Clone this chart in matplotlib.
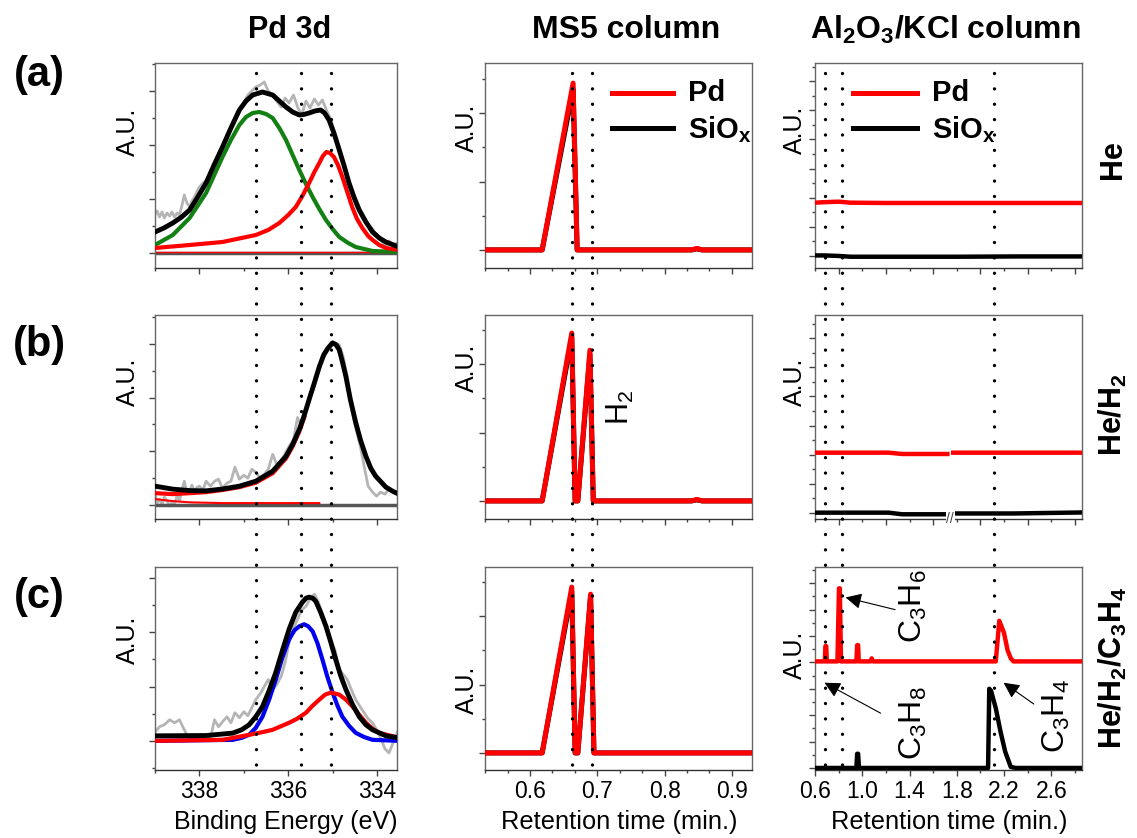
import numpy as np
import matplotlib
matplotlib.use("Agg")
import matplotlib.pyplot as plt
from matplotlib.lines import Line2D
from matplotlib.transforms import blended_transform_factory
from matplotlib.ticker import MultipleLocator, AutoMinorLocator

plt.rcParams['font.family'] = ['Liberation Sans', 'DejaVu Sans']
plt.rcParams['mathtext.fontset'] = 'custom'
plt.rcParams['mathtext.rm'] = 'Liberation Sans'
plt.rcParams['mathtext.bf'] = 'Liberation Sans:bold'
plt.rcParams['mathtext.it'] = 'Liberation Sans:italic'
plt.rcParams['mathtext.default'] = 'rm'

# ---------------- data: Pd 3d XPS ----------------
xps_ticks = [338, 336, 334]
xps_marks = [336.72, 335.71, 335.03]

a_raw_x = [339.01, 338.95, 338.90, 338.84, 338.79, 338.73, 338.67, 338.62, 338.56, 338.50, 338.45, 338.39,
           338.34, 338.28, 338.22, 338.17, 338.11, 338.05, 338.0, 337.92, 337.85, 337.75, 337.66, 337.57,
           337.48, 337.38, 337.29, 337.20, 337.10, 337.00, 336.91, 336.82, 336.73, 336.63, 336.54, 336.45,
           336.35, 336.26, 336.16, 336.07, 335.98, 335.88, 335.79, 335.70, 335.60, 335.51, 335.41, 335.32,
           335.23, 335.13, 335.04, 334.95, 334.85, 334.76, 334.67, 334.57, 334.48, 334.38, 334.29, 334.20,
           334.10, 334.01, 333.92, 333.82, 333.73, 333.63, 333.51]
a_raw_y = [38, 42, 36, 41, 35, 40, 37, 41, 36, 40, 38, 48, 58, 50, 46, 52, 56, 62, 66, 70, 72, 80, 88, 95,
           104, 118, 125, 134, 142, 150, 158, 162, 166, 168, 171, 162, 158, 152, 146, 155, 150, 158, 146,
           138, 152, 145, 154, 148, 153, 142, 134, 118, 104, 88, 74, 60, 48, 40, 33, 27, 24, 18, 14, 6, 12,
           8, 11]
a_black_x = [339.0, 338.8, 338.6, 338.4, 338.22, 338.05, 337.85, 337.67, 337.48, 337.29, 337.10, 336.95,
             336.80, 336.58, 336.35, 336.2, 336.05, 335.9, 335.75, 335.65, 335.53, 335.4, 335.27, 335.18,
             335.08, 334.97, 334.85, 334.74, 334.63, 334.52, 334.40, 334.25, 334.10, 333.95, 333.80, 333.51]
a_black_y = [21, 25, 30, 36, 43, 55, 70, 88, 106, 125, 143, 152, 158, 161, 158, 152, 146, 141, 138, 138.5,
             140, 142, 143, 140, 133, 120, 103, 87, 70, 56, 43, 31, 21, 15, 11, 6]
a_green_x = [339.0, 338.6, 338.22, 337.85, 337.48, 337.29, 337.10, 336.95, 336.80, 336.65, 336.5, 336.35,
             336.2, 336.05, 335.9, 335.75, 335.6, 335.45, 335.3, 335.15, 335.0, 334.85, 334.65, 334.48,
             334.10, 333.51]
a_green_y = [8, 18, 35, 60, 96, 113, 128, 136, 140, 141, 139, 135, 125, 113, 98, 83, 69, 56, 44, 33, 24, 16,
             10, 6, 2, 1]
a_red_x = [339.0, 338.22, 337.48, 336.73, 336.45, 336.2, 336.0, 335.83, 335.68, 335.53, 335.41, 335.3,
           335.22, 335.14, 335.06, 334.97, 334.88, 334.78, 334.67, 334.56, 334.45, 334.33, 334.2, 334.1,
           333.95, 333.8, 333.51]
a_red_y = [5, 8, 11, 18, 23, 30, 38, 46, 57, 70, 81, 90, 97, 101, 100, 96, 88, 76, 61, 46, 34, 25, 17, 13,
           8, 5, 3]

b_raw_x = [339.01, 338.95, 338.90, 338.84, 338.79, 338.73, 338.67, 338.62, 338.56, 338.50, 338.45, 338.39,
           338.34, 338.28, 338.22, 338.17, 338.11, 338.05, 338.0, 337.92, 337.85, 337.75, 337.66, 337.57,
           337.48, 337.38, 337.29, 337.20, 337.10, 337.00, 336.91, 336.82, 336.73, 336.63, 336.54, 336.45,
           336.35, 336.26, 336.16, 336.07, 335.98, 335.88, 335.79, 335.70, 335.60, 335.51, 335.41, 335.32,
           335.23, 335.13, 335.04, 334.95, 334.85, 334.76, 334.67, 334.57, 334.48, 334.38, 334.29, 334.20,
           334.10, 334.01, 333.92, 333.82, 333.73, 333.63, 333.51]
b_raw_y = [12, 2, 6, 0, 8, 4, -1, 3, 1, 10, 4, 16, 24, 12, 13, 20, 14, 18, 19, 15, 24, 19, 24, 26, 17, 22,
           24, 38, 26, 30, 27, 36, 33, 27, 31, 36, 51, 41, 44, 52, 59, 66, 88, 79, 96, 108, 120, 134, 146,
           154, 163, 163, 161, 149, 129, 96, 78, 60, 39, 19, 13, 9, 13, 11, 16, 12, 11]
b_black_x = [339.0, 338.6, 338.2, 337.85, 337.5, 337.1, 336.73, 336.35, 336.05, 335.9, 335.75, 335.64,
             335.53, 335.41, 335.3, 335.2, 335.1, 335.0, 334.92, 334.85, 334.78, 334.7, 334.6, 334.48,
             334.37, 334.25, 334.14, 334.03, 333.8, 333.65, 333.51]
b_black_y = [19, 16, 14.5, 14.3, 16, 19, 24, 34, 49, 61, 76, 90, 106, 123, 139, 151, 158, 163, 161, 156,
             144, 129, 106, 83, 65, 49, 37, 29, 18, 14, 11]
b_red_x = [339.0, 338.6, 338.2, 337.85, 337.5, 337.1, 336.73, 336.35, 336.05, 335.9, 335.75, 335.64]
b_red_y = [12, 11, 12, 13, 15, 18, 22.5, 32, 47, 59, 74, 88]
b_red2_x = [339.0, 338.6, 338.2, 337.5, 335.3]
b_red2_y = [6, 4, 2.7, 2, 2]

c_raw_x = [339.01, 338.90, 338.79, 338.67, 338.56, 338.45, 338.34, 338.22, 338.11, 338.0, 337.92, 337.85,
           337.75, 337.66, 337.57, 337.48, 337.38, 337.29, 337.20, 337.10, 337.00, 336.91, 336.82, 336.73,
           336.63, 336.54, 336.45, 336.35, 336.26, 336.16, 336.07, 335.98, 335.88, 335.79, 335.70, 335.60,
           335.51, 335.41, 335.32, 335.23, 335.13, 335.04, 334.95, 334.85, 334.76, 334.67, 334.57, 334.48,
           334.38, 334.29, 334.20, 334.10, 334.01, 333.92, 333.82, 333.73, 333.63, 333.51]
c_raw_y = [8, 14, 16, 21, 18, 21, 11, 1, 4, 4, 5, 6, 3, 21, 14, 19, 24, 18, 28, 23, 29, 25, 33, 41, 47, 54,
           61, 51, 56, 64, 78, 98, 112, 121, 130, 134, 141, 146, 138, 126, 114, 99, 91, 71, 66, 61, 50, 41,
           34, 28, 22, 18, 11, 3, -8, -12, -1, 12]
c_black_x = [339.0, 337.85, 337.25, 337.05, 336.88, 336.73, 336.58, 336.43, 336.28, 336.13, 335.98,
             335.83, 335.68, 335.6, 335.53, 335.45, 335.38, 335.27, 335.15, 335.04, 334.93, 334.82, 334.7,
             334.55, 334.4, 334.25, 334.1, 333.8, 333.51]
c_black_y = [5, 5.3, 7.7, 11, 16, 24, 34, 50, 68, 90, 111, 128, 138, 142, 143, 142, 139, 128, 114, 98, 81,
             65, 51, 36, 24, 16, 11, 5, 3]
c_blue_x = [339.0, 337.25, 337.05, 336.88, 336.73, 336.58, 336.43, 336.28, 336.13, 335.98, 335.86, 335.75,
            335.64, 335.55, 335.45, 335.34, 335.23, 335.12, 335.0, 334.89, 334.78, 334.63, 334.48, 334.3,
            334.1, 333.51]
c_blue_y = [0, 1, 3, 6, 13, 24, 41, 61, 83, 101, 110, 114, 116, 114, 109, 97, 81, 64, 48, 35, 24, 15, 8, 4,
            1, 0]
c_red_x = [339.0, 337.48, 336.88, 336.6, 336.35, 335.98, 335.8, 335.6, 335.45, 335.3, 335.17, 335.04,
           334.85, 334.7, 334.55, 334.4, 334.25, 334.1, 333.95, 333.51]
c_red_y = [0, 1, 6, 8.5, 11, 18, 22, 28, 35, 41, 46, 48, 46, 41, 34, 26, 18, 12, 8, 3]

# ---------------- data: MS5 column ----------------
ms_ticks = [0.6, 0.7, 0.8, 0.9]
ms_marks = [0.662, 0.692]
ms_a_t = [0.533, 0.618, 0.664, 0.670, 0.70, 0.84, 0.848, 0.856, 0.93]
ms_a_pd = [0, 0, 166, 0, 0, 0, 1.5, 0, 0]
ms_a_si = [0, 0, 160, 0, 0, 0, 1, 0, 0]
ms_b_t = [0.533, 0.618, 0.662, 0.667, 0.671, 0.689, 0.694, 0.84, 0.848, 0.856, 0.93]
ms_b_pd = [0, 0, 167, 0, 0, 150, 0, 0, 1.5, 0, 0]
ms_b_si = [0, 0, 163, 0, 0, 146, 0, 0, 1, 0, 0]
ms_c_t = [0.533, 0.618, 0.662, 0.667, 0.671, 0.690, 0.695, 0.93]
ms_c_pd = [0, 0, 165, 0, 0, 158, 0, 0]
ms_c_si = [0, 0, 161, 0, 0, 156, 0, 0]

# ---------------- data: Al2O3/KCl column ----------------
al_ticks = [0.6, 1.0, 1.4, 1.8, 2.2, 2.6]
al_marks = [0.684, 0.826, 2.115]
al_a_t = [0.6, 0.68, 0.8, 0.9, 1.2, 1.8, 2.3, 2.86]
al_a_pd = [53, 53.5, 54, 53, 52.7, 52.7, 52.7, 52.7]
al_a_si = [0.5, 0.5, 0, -0.8, -0.8, -0.8, -0.5, -0.5]
al_b_t = [0.6, 1.225, 1.336, 1.72, np.nan, 1.77, 2.28, 2.86]
al_b_pd = [60, 60, 58.7, 58.7, np.nan, 60, 60, 60]
al_b_si = [0.3, 0.3, -1.3, -1.3, np.nan, -0.5, -0.5, 0.5]
al_c_t_pd = [0.6, 0.683, 0.688, 0.695, 0.70, 0.79, 0.803, 0.81, 0.82, 0.95, 0.957, 0.965, 0.97, 1.07,
             1.08, 1.09, 2.13, 2.16, 2.2, 2.23, 2.257, 2.28, 2.86]
al_c_pd = [105, 105, 120, 120, 105, 105, 177, 177, 105, 105, 121, 121, 105, 105, 108, 105, 105, 145, 133,
           116, 108, 105, 105]
al_c_t_si = [0.6, 0.95, 0.957, 0.965, 0.972, 2.065, 2.075, 2.09, 2.13, 2.17, 2.21, 2.257, 2.3, 2.86]
al_c_si = [0, 0, 14, 14, 0, 0, 78, 76, 59, 36, 16, 1, 0, 0]

# ---------------- figure ----------------
W, H = 1137, 838
fig = plt.figure(figsize=(W / 100, H / 100), dpi=100)


def fx(px):
    return px / W


def fy(py):
    return 1 - py / H


col_x = [(155, 397), (485, 752), (815, 1082)]
row_y = [(63, 268), (315, 519), (567, 770)]

axes = [[None] * 3 for _ in range(3)]
for r in range(3):
    for c in range(3):
        x0, x1 = col_x[c]
        y0, y1 = row_y[r]
        ax = fig.add_axes([fx(x0), fy(y1), fx(x1 - x0), (y1 - y0) / H])
        for s in ax.spines.values():
            s.set_color('#666666')
            s.set_linewidth(1.0)
        ax.spines['bottom'].set_color('#333333')
        ax.tick_params(axis='both', which='both', direction='out', color='#444444',
                       labelleft=False, labelsize=16.5, width=1)
        ax.tick_params(which='major', length=4)
        ax.tick_params(which='minor', length=2.5)
        if r < 2:
            ax.tick_params(labelbottom=False)
        axes[r][c] = ax

RAW = '#b5b5b5'
LW = 3.0

# Pd 3d column
xps_data = [
    dict(raw=(a_raw_x, a_raw_y), ylim=(-15, 190)),
    dict(raw=(b_raw_x, b_raw_y), ylim=(-14, 191)),
    dict(raw=(c_raw_x, c_raw_y), ylim=(-29, 173)),
]
for r in range(3):
    ax = axes[r][0]
    ax.set_xlim(339.0, 333.55)
    ax.set_ylim(*xps_data[r]['ylim'])
    ax.xaxis.set_major_locator(MultipleLocator(2))
    ax.xaxis.set_minor_locator(MultipleLocator(1))
    ax.yaxis.set_major_locator(MultipleLocator(54))
    ax.yaxis.set_minor_locator(MultipleLocator(27))
    ax.plot(*xps_data[r]['raw'], color=RAW, lw=2.0, zorder=1)

ax = axes[0][0]
ax.axhline(0, color='#555555', lw=2.5, zorder=2)
ax.axhline(1.2, color='red', lw=1.0, zorder=2)
ax.plot(a_green_x, a_green_y, color='#128012', lw=LW, zorder=3)
ax.plot(a_red_x, a_red_y, color='#ff0000', lw=LW, zorder=3)
ax.plot(a_black_x, a_black_y, color='black', lw=LW + 0.5, zorder=4)

ax = axes[1][0]
ax.axhline(0, color='#555555', lw=2.5, zorder=2)
ax.plot(b_red2_x, b_red2_y, color='red', lw=1.5, zorder=3)
ax.plot(b_red_x, b_red_y, color='red', lw=LW, zorder=3)
ax.plot(b_black_x, b_black_y, color='black', lw=LW + 0.5, zorder=4)

ax = axes[2][0]
ax.plot(c_blue_x, c_blue_y, color='#0000ee', lw=LW, zorder=3)
ax.plot(c_red_x, c_red_y, color='#ff0000', lw=LW, zorder=3)
ax.plot(c_black_x, c_black_y, color='black', lw=LW + 0.5, zorder=4)
ax.set_xticks(xps_ticks)
ax.set_xticklabels([str(t) for t in xps_ticks])

# MS5 column
ms_sets = [(ms_a_t, ms_a_pd, ms_a_si, (-18, 186)),
           (ms_b_t, ms_b_pd, ms_b_si, (-18, 185)),
           (ms_c_t, ms_c_pd, ms_c_si, (-17, 185))]
for r in range(3):
    ax = axes[r][1]
    t, pd_, si, yl = ms_sets[r]
    ax.set_xlim(0.533, 0.93)
    ax.set_ylim(*yl)
    ax.xaxis.set_major_locator(MultipleLocator(0.1))
    ax.xaxis.set_minor_locator(AutoMinorLocator(3))
    ax.yaxis.set_major_locator(MultipleLocator(68))
    ax.yaxis.set_minor_locator(MultipleLocator(34))
    ax.plot(t, si, color='black', lw=3.6, zorder=3, solid_joinstyle='round')
    ax.plot(t, pd_, color='#ff0000', lw=3.6, zorder=4, solid_joinstyle='round')
axes[2][1].set_xticks(ms_ticks)
axes[2][1].set_xticklabels([f"{t:.1f}" for t in ms_ticks])

# Al2O3/KCl column
al_sets = [(al_a_t, al_a_pd, al_a_t, al_a_si, (-12, 192), 29),
           (al_b_t, al_b_pd, al_b_t, al_b_si, (-6, 197), 29),
           (al_c_t_pd, al_c_pd, al_c_t_si, al_c_si, (-2, 198), 26)]
for r in range(3):
    ax = axes[r][2]
    tp, pd_, ts, si, yl, step = al_sets[r]
    ax.set_xlim(0.6, 2.86)
    ax.set_ylim(*yl)
    ax.xaxis.set_major_locator(MultipleLocator(0.4))
    ax.xaxis.set_minor_locator(MultipleLocator(0.2))
    ax.yaxis.set_major_locator(MultipleLocator(step))
    ax.yaxis.set_minor_locator(MultipleLocator(step / 2))
    ax.plot(ts, si, color='black', lw=3.2, zorder=3, solid_joinstyle='round')
    ax.plot(tp, pd_, color='#ff0000', lw=3.2, zorder=4, solid_joinstyle='round')
axes[2][2].set_xticks(al_ticks)
axes[2][2].set_xticklabels([f"{t:.1f}" for t in al_ticks])
axes[1][2].text(1.745, 0.0, '//', transform=blended_transform_factory(axes[1][2].transData, axes[1][2].transAxes),
                ha='center', va='center', fontsize=10, color='#444444',
                bbox=dict(facecolor='white', edgecolor='none', pad=0.5))

# annotations in (c) Al2O3 panel
axc = axes[2][2]
arrow = dict(arrowstyle='-|>', color='black', lw=0.8, mutation_scale=24, shrinkA=0, shrinkB=0)
axc.annotate('', xy=(0.859, 168), xytext=(1.278, 156), arrowprops=arrow)
axc.annotate('', xy=(0.68, 84), xytext=(1.155, 54), arrowprops=arrow)
axc.annotate('', xy=(2.196, 84), xytext=(2.452, 63), arrowprops=arrow)
axc.text(1.43, 159, r'C$_3$H$_6$', rotation=90, ha='center', va='center', fontsize=23)
axc.text(1.43, 44, r'C$_3$H$_8$', rotation=90, ha='center', va='center', fontsize=23)
axc.text(2.64, 51, r'C$_3$H$_4$', rotation=90, ha='center', va='center', fontsize=23)

# H2 label in MS5 (b)
axes[1][1].text(0.734, 93, r'H$_2$', rotation=90, ha='center', va='center', fontsize=22)

# vertical dotted marker lines across each column
marks = [xps_marks, ms_marks, al_marks]
for c in range(3):
    tr = blended_transform_factory(axes[0][c].transData, fig.transFigure)
    for xm in marks[c]:
        fig.add_artist(Line2D([xm, xm], [fy(73), fy(776)], transform=tr, color='black', lw=2.4,
                              linestyle=(0, (0.01, 4.6)), dash_capstyle='round', zorder=10))

# legends
for (lx0, lx1, tx) in [(612, 673, 688), (853, 917, 932)]:
    fig.add_artist(Line2D([fx(lx0), fx(lx1)], [fy(93), fy(93)], transform=fig.transFigure,
                          color='#ff0000', lw=3.6))
    fig.add_artist(Line2D([fx(lx0), fx(lx1)], [fy(128), fy(128)], transform=fig.transFigure,
                          color='black', lw=3.6))
    fig.text(fx(tx), fy(93), 'Pd', fontsize=21, fontweight='bold', va='center', ha='left')
    fig.text(fx(tx), fy(130), r'SiO$_\mathbf{x}$', fontsize=21, fontweight='bold', va='center', ha='left')

# column titles
fig.text(fx(290), fy(30), 'Pd 3d', fontsize=22, fontweight='bold', ha='center', va='center')
fig.text(fx(626), fy(30), 'MS5 column', fontsize=23, fontweight='bold', ha='center', va='center')
fig.text(fx(945), fy(30), r'Al$_\mathbf{2}$O$_\mathbf{3}$/KCl column', fontsize=23, fontweight='bold',
         ha='center', va='center')

# panel letters
for lab, yy in [('(a)', 75), ('(b)', 345), ('(c)', 597)]:
    fig.text(fx(39), fy(yy), lab, fontsize=30, fontweight='bold', ha='center', va='center')

# right-side condition labels
fig.text(fx(1113), fy(160), 'He', fontsize=22, fontweight='bold', rotation=90, ha='center', va='center')
fig.text(fx(1113), fy(415), r'He/H$_\mathbf{2}$', fontsize=22, fontweight='bold', rotation=90,
         ha='center', va='center')
fig.text(fx(1113), fy(668), r'He/H$_\mathbf{2}$/C$_\mathbf{3}$H$_\mathbf{4}$', fontsize=22,
         fontweight='bold', rotation=90, ha='center', va='center')

# A.U. labels
au_pos = [(128, 132), (128, 382), (128, 640),
          (467, 128), (467, 368), (467, 690),
          (795, 130), (795, 382), (795, 655)]
for (px, py) in au_pos:
    fig.text(fx(px), fy(py), 'A.U.', fontsize=18, rotation=90, ha='center', va='center')

# x axis labels
fig.text(fx(286), fy(822), 'Binding Energy (eV)', fontsize=18, ha='center', va='center')
fig.text(fx(619), fy(822), 'Retention time (min.)', fontsize=18.3, ha='center', va='center')
fig.text(fx(949), fy(822), 'Retention time (min.)', fontsize=18.3, ha='center', va='center')

fig.savefig('out.png', dpi=100)
